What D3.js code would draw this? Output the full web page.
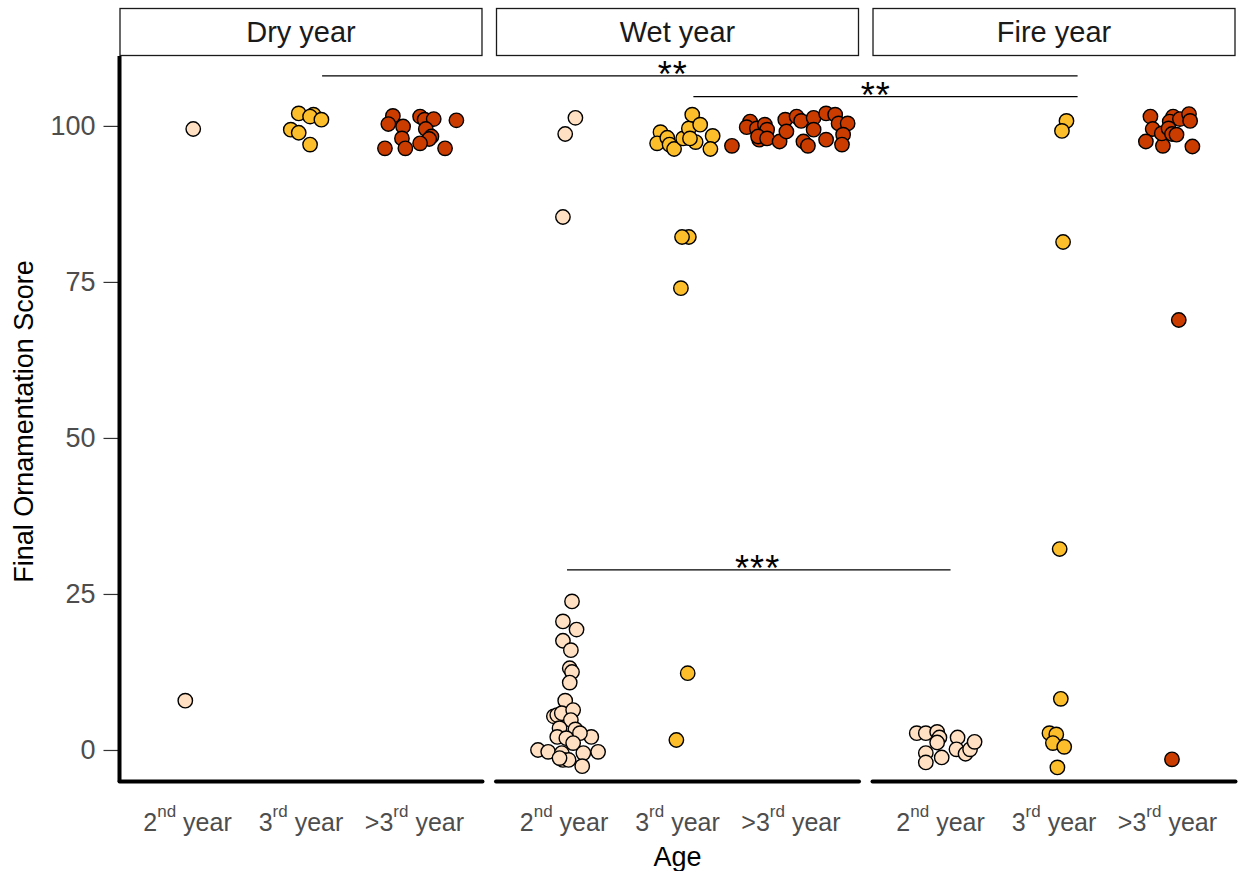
<!DOCTYPE html>
<html>
<head>
<meta charset="utf-8">
<script src="https://cdn.jsdelivr.net/npm/d3@7"></script>
<style>
  html, body { margin: 0; padding: 0; background: #ffffff; }
  svg { display: block; font-family: "Liberation Sans", Arial, Helvetica, sans-serif; }
</style>
</head>
<body>
<svg id="chart" width="1238" height="871"></svg>
<script>
// Facets and age classes
const years = ["Dry year", "Wet year", "Fire year"];
const ages = ["2nd year", "3rd year", ">3rd year"];
const ageTickMain = ["2", "3", ">3"];
const ageTickSup = ["nd", "rd", "rd"];
const ageFill = ["#FFE0C2", "#FDBE2B", "#CA3C00"];
const yTicks = [0, 25, 50, 75, 100];

// Final ornamentation scores per bird, one array per age class, with the
// horizontal jitter (in category units) each point was drawn with
const dryScores = [
  [99.5, 7.9],
  [102.0, 101.8, 101.5, 101.0, 99.4, 98.9, 97.0],
  [101.6, 100.3, 99.9, 98.0, 96.4, 96.4, 101.5, 101.0, 101.1, 99.5, 98.3, 97.9, 97.2, 96.4, 100.9]
];
const dryJitter = [
  [0.05, -0.02],
  [-0.02, 0.11, 0.08, 0.18, -0.09, -0.02, 0.08],
  [-0.19, -0.23, -0.10, -0.11, -0.26, -0.08, 0.05, 0.09, 0.17, 0.10, 0.15, 0.13, 0.05, 0.27, 0.37]
];
const wetScores = [
  [101.3, 98.7, 85.4, 23.8, 20.6, 19.3, 17.5, 16.0, 13.1, 12.5, 10.8, 7.9, 5.4, 5.6, 5.9, 6.4, 4.8,
   3.5, 3.3, 2.1, 1.9, 2.1, 2.7, 1.1, 0.0, -0.3, -0.5, -0.3, -0.5, -1.6, -1.6, -1.3, -2.6],
  [99.0, 97.2, 98.1, 97.0, 96.3, 98.0, 99.6, 101.8, 100.2, 97.4, 98.0, 98.4, 96.3, 82.2, 82.2, 74.0, 12.3, 1.6],
  [96.8, 100.7, 99.8, 99.6, 100.2, 99.4, 97.8, 98.3, 98.0, 97.5, 101.0, 99.1, 101.5, 100.8, 101.3,
   97.5, 96.8, 99.4, 97.8, 102.0, 101.8, 100.4, 100.4, 98.6, 97.0]
];
const wetJitter = [
  [0.10, 0.01, -0.01, 0.07, -0.01, 0.11, -0.01, 0.06, 0.05, 0.07, 0.05, 0.01, -0.09, -0.06, -0.02, 0.08, 0.06,
   -0.04, 0.10, -0.06, 0.02, 0.24, 0.14, 0.08, -0.23, -0.14, -0.02, 0.30, 0.17, -0.01, 0.04, -0.04, 0.16],
  [-0.15, -0.18, -0.09, -0.07, -0.03, 0.05, 0.10, 0.13, 0.20, 0.16, 0.11, 0.31, 0.29, 0.10, 0.04, 0.03, 0.09, -0.01],
  [-0.52, -0.36, -0.39, -0.30, -0.23, -0.21, -0.28, -0.29, -0.21, -0.10, -0.05, -0.04, 0.05, 0.09, 0.20,
   0.11, 0.15, 0.20, 0.31, 0.31, 0.39, 0.42, 0.50, 0.46, 0.45]
];
const fireScores = [
  [2.7, 2.7, 2.9, 2.0, 1.2, -0.5, -2.0, -1.2, 2.0, 0.1, -0.6, 0.1, 1.3],
  [100.8, 99.2, 81.4, 32.2, 8.2, 2.7, 2.5, 1.1, 0.5, -2.8],
  [101.5, 99.5, 97.5, 96.8, 98.8, 101.5, 100.7, 99.6, 98.7, 98.6, 101.1, 101.9, 100.8, 96.7, 68.9, -1.5]
];
const fireJitter = [
  [-0.21, -0.13, -0.03, -0.01, -0.03, -0.13, -0.13, 0.01, 0.15, 0.14, 0.22, 0.26, 0.30],
  [0.11, 0.07, 0.08, 0.05, 0.06, -0.04, 0.02, -0.01, 0.09, 0.03],
  [-0.15, -0.13, -0.19, -0.04, -0.05, 0.05, 0.02, 0.01, 0.04, 0.08, 0.11, 0.19, 0.20, 0.22, 0.10, 0.04]
];

// Pairwise significance brackets: start/end (facet, position in category units), height, label
const sigFromYear = ["Dry year", "Wet year", "Wet year"];
const sigFromPos = [2.186, 2.14, 1.026];
const sigToYear = ["Fire year", "Fire year", "Fire year"];
const sigToPos = [2.208, 2.208, 1.088];
const sigHeight = [108.0, 104.7, 28.85];
const sigLabel = ["**", "**", "***"];
const sigLabelAt = [0.464, 0.475, 0.497];

const scoresByYear = [dryScores, wetScores, fireScores];
const jitterByYear = [dryJitter, wetJitter, fireJitter];

// Layout
const svg = d3.select("#chart");
const plotLeft = 119.5, plotRight = 1235.5, plotTop = 56, plotBottom = 781;
const stripTop = 8;

const facetX = d3.scaleBand().domain(years).range([plotLeft, plotRight]).paddingInner(0.0359).paddingOuter(0);
const innerX = d3.scaleLinear().domain([0.4, 3.6]).range([0, facetX.bandwidth()]);
const y = d3.scaleLinear().domain([-4.97, 111.2]).range([plotBottom, plotTop]);

const xAt = (year, pos) => facetX(year) + innerX(pos);

// Facet strips
const strips = svg.append("g").selectAll("g").data(years).join("g")
  .attr("transform", d => `translate(${facetX(d)},${stripTop})`);
strips.append("rect")
  .attr("x", 0.5).attr("y", 0.5)
  .attr("width", facetX.bandwidth() - 1).attr("height", plotTop - stripTop - 1)
  .attr("fill", "#ffffff").attr("stroke", "#1a1a1a").attr("stroke-width", 1.3);
strips.append("text")
  .attr("x", facetX.bandwidth() / 2).attr("y", (plotTop - stripTop) / 2)
  .attr("dy", "0.35em").attr("text-anchor", "middle")
  .attr("font-size", 29).attr("fill", "#1a1a1a")
  .text(d => d);

// Y axis with ticks and labels
const yAxis = d3.axisLeft(y).tickValues(yTicks).tickSize(16).tickPadding(8).tickFormat(d3.format("d"));
const yAxisG = svg.append("g").attr("transform", `translate(${plotLeft},0)`).call(yAxis);
yAxisG.select(".domain").remove();
yAxisG.selectAll(".tick line").attr("stroke", "#333333").attr("stroke-width", 1.2);
yAxisG.selectAll(".tick text").attr("fill", "#4d4d4d").attr("font-size", 27)
  .attr("font-family", "'Liberation Sans', Arial, sans-serif");

// Axis lines: left spine on the first facet, bottom spine on every facet
svg.append("line")
  .attr("x1", plotLeft).attr("x2", plotLeft)
  .attr("y1", plotTop).attr("y2", plotBottom + 0.5)
  .attr("stroke", "#000").attr("stroke-width", 4);
svg.append("g").selectAll("line").data(years).join("line")
  .attr("x1", d => facetX(d)).attr("x2", d => facetX(d) + facetX.bandwidth())
  .attr("y1", plotBottom + 0.5).attr("y2", plotBottom + 0.5)
  .attr("stroke", "#000").attr("stroke-width", 4).attr("stroke-linecap", "round");

// X tick labels with ordinal superscripts
const tickRows = [];
years.forEach(yr => ages.forEach((a, i) => tickRows.push({ yr, i })));
const tickText = svg.append("g").selectAll("text").data(tickRows).join("text")
  .attr("x", d => xAt(d.yr, d.i + 1)).attr("y", 831)
  .attr("text-anchor", "middle").attr("font-size", 25).attr("fill", "#4d4d4d");
tickText.append("tspan").text(d => ageTickMain[d.i]);
tickText.append("tspan").attr("font-size", 17).attr("dy", -14).text(d => ageTickSup[d.i]);
tickText.append("tspan").attr("dy", 14).text(" year");

// Axis titles
svg.append("text")
  .attr("x", (plotLeft + plotRight) / 2).attr("y", 866)
  .attr("text-anchor", "middle").attr("font-size", 27).attr("fill", "#000")
  .text("Age");
svg.append("text")
  .attr("transform", `translate(33,${(plotTop + plotBottom) / 2 + 3}) rotate(-90)`)
  .attr("text-anchor", "middle").attr("font-size", 27).attr("fill", "#000")
  .text("Final Ornamentation Score");

// Jittered points
const pts = [];
years.forEach((yr, yi) => {
  ages.forEach((a, ai) => {
    scoresByYear[yi][ai].forEach((s, k) => {
      pts.push({ yr, ai, score: s, pos: ai + 1 + jitterByYear[yi][ai][k] });
    });
  });
});
svg.append("g").selectAll("circle").data(pts).join("circle")
  .attr("cx", d => xAt(d.yr, d.pos))
  .attr("cy", d => y(d.score))
  .attr("r", 7.2)
  .attr("fill", d => ageFill[d.ai])
  .attr("stroke", "#000").attr("stroke-width", 1.4);

// Significance brackets
const sig = sigLabel.map((lab, i) => ({
  x1: xAt(sigFromYear[i], sigFromPos[i]),
  x2: xAt(sigToYear[i], sigToPos[i]),
  yv: sigHeight[i], lab, at: sigLabelAt[i]
}));
const sigG = svg.append("g");
sigG.selectAll("line").data(sig).join("line")
  .attr("x1", d => d.x1).attr("x2", d => d.x2)
  .attr("y1", d => y(d.yv)).attr("y2", d => y(d.yv))
  .attr("stroke", "#000").attr("stroke-width", 1.3);
sigG.selectAll("text").data(sig).join("text")
  .attr("x", d => d.x1 + (d.x2 - d.x1) * d.at)
  .attr("y", d => y(d.yv) + 11)
  .attr("text-anchor", "middle").attr("font-size", 36).attr("letter-spacing", 1)
  .attr("fill", "#000")
  .text(d => d.lab);
</script>
</body>
</html>
